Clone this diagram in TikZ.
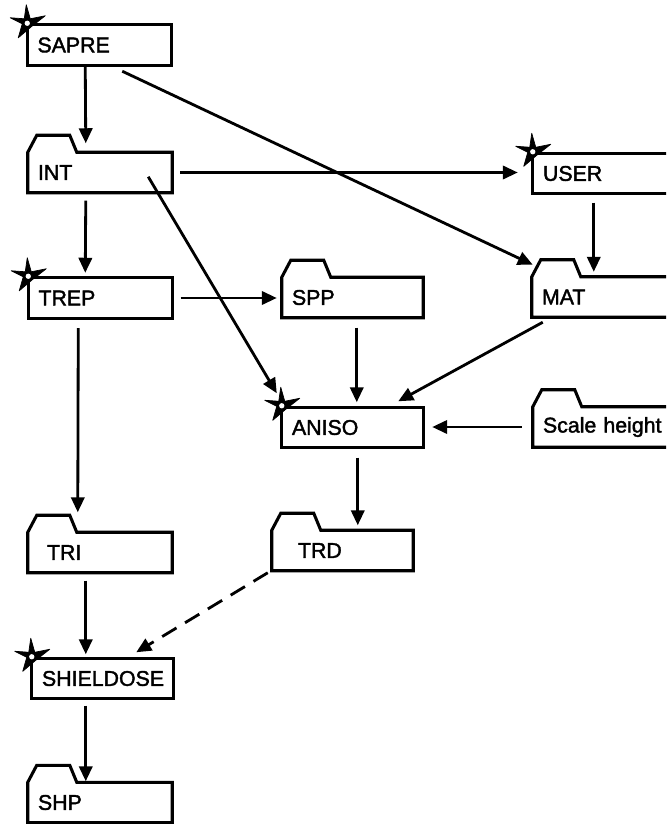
\documentclass[tikz,border=0pt]{standalone}
\usepackage{fontspec}
\setmainfont{Liberation Sans}
\newfontfamily\lblfont{Liberation Sans}[FakeBold=1.8]
\usetikzlibrary{arrows.meta,calc}
\newcommand\plainline[1]{\draw[outline] (#1.south west) rectangle (#1.north east);}
\newcommand\folderline[1]{\draw[outline] (#1.south west) -- (#1.north west) -- ++(9,-17) -- ++(33,0) -- ++(7,17) -- (#1.north east) -- (#1.south east) -- cycle;}
\newcommand\burst[1]{%
  \begin{scope}[shift={(#1.north west)}]
    \filldraw[black, line width=0.6pt, line join=round] (-1,-20) -- (3,-6) -- (18,-9) -- (4,2) -- (-9,13) -- (-5,-1) -- (-17,-7) -- (-3,-6) -- cycle;
    \fill[white] (0,-1.5) circle (0.08cm);
  \end{scope}}
\begin{document}
\begin{tikzpicture}[x=0.03cm,y=-0.03cm,
  box/.style={rectangle, inner xsep=0.3cm, inner ysep=0pt, minimum height=1.2cm,
    text width=3.72cm, align=left, font=\lblfont\fontsize{18.2pt}{20pt}\selectfont},
  narrow/.style={text width=3.63cm},
  outline/.style={line width=2.6pt, line join=miter},
  arr/.style={line width=2.4pt, -{Triangle[length=0.45cm,width=0.4cm]}},
  dasharr/.style={arr, dash pattern=on 0.5cm off 0.3cm},
]
\clip (0,0) rectangle (666,824);
% nodes
\node[box] (sapre) at (99.5,45) {SAPRE};
\node[box] (int) at (100,172.5) {INT};
\node[box] (user) at (605,173.5) {USER};
\node[box] (trep) at (100.5,298) {TREP};
\node[box,narrow] (spp) at (352.5,297.5) {SPP};
\node[box] (mat) at (604,297) {MAT};
\node[box,narrow] (aniso) at (352.5,427.5) {ANISO};
\node[box] (scale) at (605,427) {Scale height};
\node[box] (tri) at (100,552.5) {\hspace*{0.27cm}TRI};
\node[box,narrow] (trd) at (342.5,550.5) {\hspace*{0.48cm}TRD};
\node[box,narrow] (shield) at (102.5,678.5) {SHIELDOSE};
\node[box] (shp) at (100,802.5) {SHP};
% outlines
\plainline{sapre}\plainline{user}\plainline{trep}\plainline{aniso}\plainline{shield}
\folderline{int}\folderline{spp}\folderline{mat}\folderline{scale}
\folderline{tri}\folderline{trd}\folderline{shp}
% stars
\burst{sapre}\burst{user}\burst{trep}\burst{aniso}\burst{shield}
% connectors
\draw[arr] ($(sapre.south west)+(58,2)$) -- ($(int.north west)+(58,-9)$);
\draw[arr] ($(sapre.south west)+(95,6)$) -- ($(mat.north west)+(1,-12)$);
\draw[arr] ($(int.east)+(8,0)$) -- ($(user.west |- int.east)+(-15,0)$);
\draw[arr] ($(int.south west)+(58,8)$) -- ($(trep.north west)+(57,-5)$);
\draw[arr] ($(int.south east)+(-24,-16)$) -- ($(aniso.north west)+(-5,-14)$);
\draw[arr] ($(user.south west)+(61,9)$) -- ($(mat.north west)+(62,-5)$);
\draw[arr] ($(trep.east)+(8,0)$) -- ($(spp.west |- trep.east)+(-5,0)$);
\draw[arr] ($(spp.south west)+(75,10)$) -- ($(aniso.north west)+(75,-5)$);
\draw[arr] ($(mat.south west)+(11,5)$) -- ($(aniso.north east)+(-25,-6)$);
\draw[arr] ($(scale.west)+(-11,0)$) -- ($(aniso.east |- scale.west)+(9,0)$);
\draw[arr] ($(trep.south west)+(50,10)$) -- ($(tri.north west)+(50,-20)$);
\draw[arr] ($(aniso.south west)+(76,10)$) -- ($(trd.north west)+(86,-5)$);
\draw[arr] ($(tri.south west)+(58,8)$) -- ($(shield.north west)+(54,-4)$);
\draw[dasharr] ($(trd.south west)+(-4,2)$) -- ($(shield.north east)+(-37,-6)$);
\draw[arr] ($(shield.south west)+(54,7)$) -- ($(shp.north west)+(58,-1)$);
\end{tikzpicture}
\end{document}
